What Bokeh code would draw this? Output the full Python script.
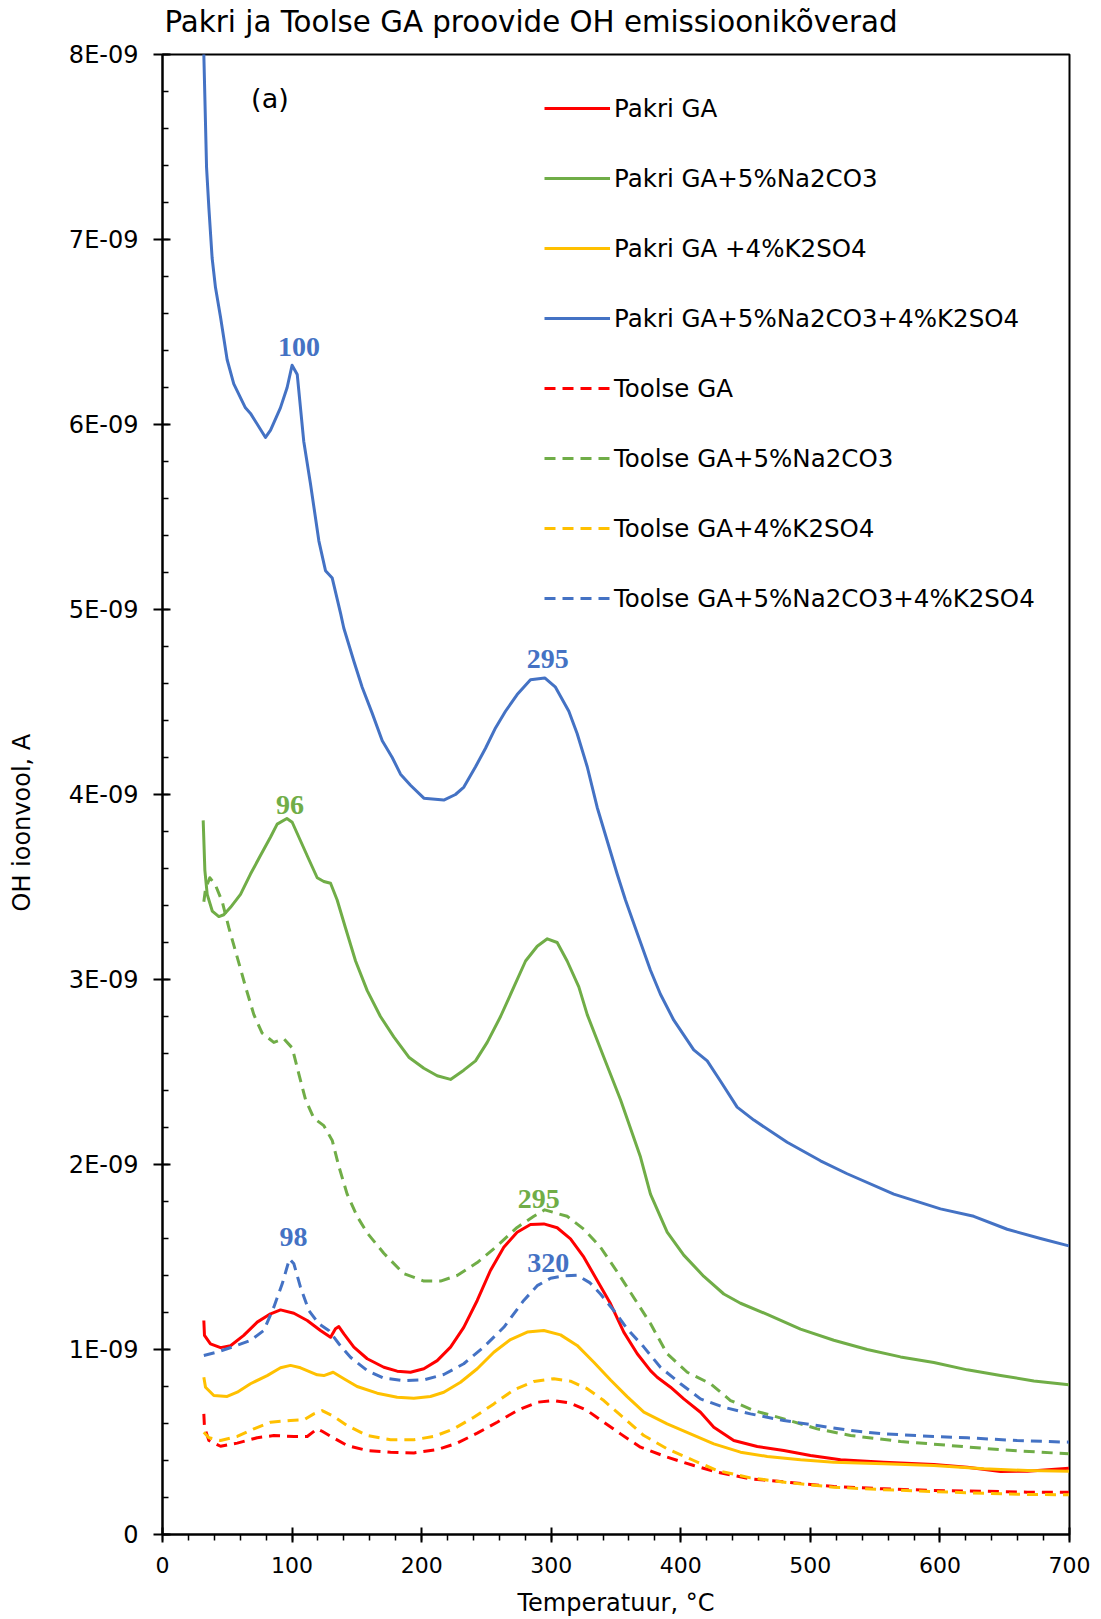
import numpy as np
from bokeh.plotting import figure
from bokeh.models import (ColumnDataSource, Legend, LegendItem, Range1d, LinearAxis,
                          SingleIntervalTicker, FixedTicker, CustomJSTickFormatter, Label, Title)
from bokeh.core.properties import value
from bokeh.embed import file_html
from bokeh.resources import INLINE

# Temperature (°C) and OH ion current (in units of 1E-09 A) for each sample
pakri_T = [31.9, 32.4, 37, 44.8, 52.5, 62.7, 73.1, 83.4, 91.1, 101.4, 111.7, 121.9, 129.7, 133.5,
           136.1, 140, 147.7, 158, 170.8, 181.1, 191.4, 201.7, 212, 222.3, 232.5, 242.9, 253.1,
           263.4, 273.7, 284, 294.3, 304.6, 314.9, 325.2, 335.5, 345.8, 356, 366.4, 376.6, 381.8,
           392.1, 402.3, 415.2, 425.5, 440.9, 459, 479.5, 500.1, 523.3, 556.7, 595.3, 621.1,
           646.8, 667.4, 699.5]
pakri_oh = [1.157, 1.076, 1.03, 1.01, 1.02, 1.076, 1.148, 1.193, 1.214, 1.196, 1.157, 1.103, 1.066,
            1.112, 1.124, 1.085, 1.013, 0.95, 0.904, 0.883, 0.877, 0.896, 0.94, 1.013, 1.12, 1.265,
            1.427, 1.553, 1.634, 1.676, 1.679, 1.658, 1.598, 1.499, 1.373, 1.247, 1.094, 0.977,
            0.886, 0.85, 0.796, 0.733, 0.661, 0.58, 0.508, 0.476, 0.454, 0.427, 0.404, 0.391,
            0.378, 0.364, 0.341, 0.342, 0.358]

pakri_na_T = [31.4, 32.7, 34.5, 38.4, 43.5, 47.3, 52.5, 60.2, 67.9, 75.6, 83.4, 88.5, 96, 100.1,
              106.5, 112.9, 119.4, 124.5, 129.7, 134.8, 141.2, 149, 158, 168.2, 178.5, 190.1,
              201.7, 212, 222.3, 232.5, 241.6, 250.6, 260.9, 271.2, 280.2, 289.2, 297, 304.6,
              312.3, 321.3, 327.8, 340.6, 353.5, 368.9, 376.6, 389.5, 402.3, 417.8, 433.2, 446.1,
              466.7, 492.4, 518.1, 543.9, 569.6, 595.3, 621.1, 646.8, 672.5, 699.5]
pakri_na_oh = [3.86, 3.59, 3.46, 3.37, 3.34, 3.35, 3.39, 3.46, 3.57, 3.67, 3.77, 3.84, 3.87, 3.85,
               3.75, 3.65, 3.55, 3.53, 3.52, 3.43, 3.28, 3.10, 2.94, 2.80, 2.69, 2.58, 2.52, 2.48,
               2.46, 2.51, 2.56, 2.66, 2.80, 2.96, 3.10, 3.18, 3.22, 3.20, 3.10, 2.96, 2.81, 2.58,
               2.35, 2.04, 1.84, 1.635, 1.51, 1.395, 1.30, 1.25, 1.19, 1.11, 1.05, 1.00, 0.96,
               0.93, 0.89, 0.86, 0.83, 0.81]

pakri_k_T = [31.9, 33.2, 39.6, 49.9, 57.7, 67.9, 80.8, 91.1, 98.8, 106.5, 119.4, 124.5, 131.7, 140,
             150.2, 165.7, 181.1, 194, 206.8, 217.1, 230, 242.9, 255.7, 268.6, 281.5, 294.3,
             307.2, 320, 332.9, 345.8, 358.6, 371.5, 389.5, 407.5, 425.5, 446.1, 466.7, 492.4,
             518.1, 556.7, 595.3, 633.9, 667.4, 699.5]
pakri_k_oh = [0.85, 0.796, 0.751, 0.746, 0.769, 0.815, 0.859, 0.901, 0.914, 0.901, 0.863, 0.859,
              0.877, 0.842, 0.80, 0.764, 0.742, 0.737, 0.746, 0.769, 0.823, 0.896, 0.985, 1.054,
              1.094, 1.103, 1.079, 1.022, 0.931, 0.835, 0.745, 0.661, 0.598, 0.544, 0.49, 0.445,
              0.422, 0.404, 0.391, 0.382, 0.373, 0.355, 0.346, 0.342]

pakri_na_k_T = [31.6, 31.9, 34, 35.8, 38.3, 40.9, 44.8, 49.9, 55, 64, 67.9, 79.5, 83.4, 91, 96.2,
                100, 104, 109, 114.2, 120.7, 125.8, 131, 137.4, 139.9, 147.7, 154.1, 161.8, 169.6,
                177.3, 183.7, 191.4, 201.7, 217.1, 226.1, 232.6, 241.6, 249.3, 257, 264.7, 273.7,
                284, 295, 303.3, 313.6, 320, 327.8, 335.5, 343.2, 350.9, 357.3, 366.4, 376.6,
                384.3, 394.6, 410, 420.4, 430.7, 443.5, 456.4, 482.1, 507.8, 528.4, 564.4, 600.4,
                626.1, 651.9, 677.6, 699.5]
pakri_na_k_oh = [8.3, 8.0, 7.39, 7.17, 6.90, 6.74, 6.58, 6.35, 6.22, 6.09, 6.06, 5.93, 5.97, 6.09,
                 6.20, 6.32, 6.27, 5.91, 5.68, 5.37, 5.21, 5.17, 4.98, 4.90, 4.72, 4.58, 4.44,
                 4.29, 4.20, 4.11, 4.05, 3.98, 3.97, 4.00, 4.04, 4.15, 4.25, 4.36, 4.45, 4.54,
                 4.62, 4.63, 4.58, 4.45, 4.33, 4.15, 3.93, 3.75, 3.57, 3.43, 3.25, 3.05, 2.92,
                 2.78, 2.62, 2.56, 2.45, 2.31, 2.24, 2.12, 2.02, 1.95, 1.84, 1.76, 1.72, 1.65,
                 1.60, 1.56]

toolse_T = [31.9, 32.4, 35.8, 44.8, 57.7, 73.1, 85.9, 101.4, 111.7, 119.4, 123.2, 131, 142.5, 158,
            176, 194, 212, 227.4, 242.9, 258.3, 273.7, 289.2, 302, 314.9, 327.8, 340.6, 353.5,
            368.9, 389.5, 410, 428.1, 453.8, 482.1, 518.1, 556.7, 595.3, 633.9, 667.4, 699.5]
toolse_oh = [0.652, 0.58, 0.508, 0.477, 0.494, 0.523, 0.535, 0.53, 0.53, 0.571, 0.558, 0.526,
             0.481, 0.454, 0.445, 0.441, 0.459, 0.494, 0.548, 0.607, 0.67, 0.715, 0.724, 0.71,
             0.67, 0.607, 0.544, 0.472, 0.418, 0.373, 0.337, 0.301, 0.283, 0.259, 0.247, 0.238,
             0.234, 0.229, 0.229]

toolse_na_T = [31.9, 33.2, 36.5, 40.9, 46.1, 51.2, 57.7, 64.1, 70.5, 76.9, 85.9, 93.6, 100.1,
               105.2, 110.4, 116.8, 124.5, 131, 136.1, 142.5, 150.2, 158, 170.8, 186.2, 201.7,
               214.6, 227.4, 242.9, 258.3, 273.7, 286.6, 295, 312.3, 325.2, 338, 350.9, 363.8,
               376.6, 389.5, 405, 422.9, 438.4, 456.4, 479.5, 505.3, 531, 569.6, 608.2, 646.8,
               699.5]
toolse_na_oh = [3.42, 3.49, 3.55, 3.51, 3.42, 3.28, 3.12, 2.96, 2.81, 2.71, 2.66, 2.68, 2.63,
                2.49, 2.35, 2.25, 2.21, 2.13, 1.99, 1.84, 1.72, 1.63, 1.52, 1.41, 1.37, 1.37, 1.40,
                1.47, 1.56, 1.66, 1.72, 1.755, 1.72, 1.65, 1.553, 1.42, 1.28, 1.14, 0.977, 0.877,
                0.815, 0.724, 0.67, 0.625, 0.571, 0.535, 0.503, 0.481, 0.458, 0.436]

toolse_k_T = [31.9, 35.8, 44.8, 57.7, 70.5, 83.4, 98.8, 109.1, 116.8, 123.2, 131, 142.5, 158, 176,
              194, 209.4, 224.8, 240.3, 255.7, 271.2, 286.6, 302, 314.9, 327.8, 340.6, 353.5,
              371.5, 389.5, 410, 428.1, 453.8, 482.1, 518.1, 556.7, 595.3, 633.9, 667.4, 699.5]
toolse_k_oh = [0.553, 0.523, 0.508, 0.53, 0.571, 0.607, 0.616, 0.62, 0.652, 0.67, 0.643, 0.589,
               0.535, 0.512, 0.512, 0.53, 0.571, 0.634, 0.706, 0.782, 0.827, 0.842, 0.829, 0.788,
               0.724, 0.645, 0.535, 0.463, 0.40, 0.346, 0.306, 0.281, 0.256, 0.242, 0.232, 0.223,
               0.216, 0.215]

toolse_na_k_T = [31.9, 42.2, 55, 67.9, 78.2, 85.9, 92.4, 98, 101.4, 106.5, 112.9, 120.6, 128.3,
                 136.1, 145.1, 158, 170.8, 186.2, 201.7, 217.1, 232.5, 247.9, 263.4, 278.8, 289.2,
                 299.5, 310, 320, 330, 338, 348.3, 358.6, 371.5, 384.3, 399.8, 415.2, 433.2,
                 453.8, 479.5, 505.3, 531, 556.7, 595.3, 621.1, 659.6, 699.5]
toolse_na_k_oh = [0.968, 0.986, 1.016, 1.049, 1.103, 1.229, 1.355, 1.49, 1.463, 1.337, 1.211,
                  1.139, 1.103, 1.031, 0.958, 0.886, 0.845, 0.832, 0.836, 0.865, 0.923, 1.013,
                  1.12, 1.265, 1.345, 1.385, 1.398, 1.402, 1.36, 1.30, 1.211, 1.112, 1.013, 0.904,
                  0.815, 0.733, 0.688, 0.652, 0.616, 0.589, 0.562, 0.544, 0.53, 0.523, 0.508,
                  0.499]

RED, GREEN, YELLOW, BLUE = "#FF0000", "#70AD47", "#FFC000", "#4472C4"
SCALE = 1e-9
FONT = "DejaVu Sans"
DASH = "11 7"

series = [
    ("Pakri GA", pakri_T, pakri_oh, RED, "solid"),
    ("Pakri GA+5%Na2CO3", pakri_na_T, pakri_na_oh, GREEN, "solid"),
    ("Pakri GA +4%K2SO4", pakri_k_T, pakri_k_oh, YELLOW, "solid"),
    ("Pakri GA+5%Na2CO3+4%K2SO4", pakri_na_k_T, pakri_na_k_oh, BLUE, "solid"),
    ("Toolse GA", toolse_T, toolse_oh, RED, DASH),
    ("Toolse GA+5%Na2CO3", toolse_na_T, toolse_na_oh, GREEN, DASH),
    ("Toolse GA+4%K2SO4", toolse_k_T, toolse_k_oh, YELLOW, DASH),
    ("Toolse GA+5%Na2CO3+4%K2SO4", toolse_na_k_T, toolse_na_k_oh, BLUE, DASH),
]

# Peak temperatures marked on the curves: (series index, temperature, pixel offsets)
peaks = [
    (3, 100, 7, -18),
    (3, 295, 3, -19),
    (1, 96, 3, -14),
    (7, 98, 4, -22),
    (5, 295, -6, -11),
    (7, 320, -29, -12),
]

p = figure(width=1101, height=1619, output_backend="svg", toolbar_location=None,
           x_range=Range1d(0, 700), y_range=Range1d(0, 8 * SCALE),
           min_border_left=162, min_border_right=32, min_border_top=54, min_border_bottom=85,
           background_fill_color="white", border_fill_color="white")
p.title.text = ""

p.xgrid.visible = False
p.ygrid.visible = False
p.outline_line_color = "black"
p.outline_line_width = 2
p.outline_line_alpha = 1

renderers = []
for name, T, oh, color, dash in series:
    src = ColumnDataSource(dict(x=T, y=[v * SCALE for v in oh]))
    r = p.line("x", "y", source=src, line_color=color, line_width=3, line_dash=dash,
               line_join="round")
    renderers.append((name, r))

# peak temperature labels
lx, ly, lt, lc, ox, oy = [], [], [], [], [], []
for idx, t, dx, dy in peaks:
    name, T, oh, color, dash = series[idx]
    lx.append(t)
    ly.append(float(np.interp(t, T, oh)) * SCALE)
    lt.append(str(t))
    lc.append(color)
    ox.append(dx)
    oy.append(dy)
lab_src = ColumnDataSource(dict(x=lx, y=ly, text=lt, color=lc, xo=ox, yo=oy))
p.text("x", "y", text="text", source=lab_src, text_color="color", x_offset="xo", y_offset="yo",
       text_font=value("Liberation Serif"), text_font_style="bold", text_font_size="28px",
       text_align="center", text_baseline="middle")

p.add_layout(Label(x=82.9, y=7.76 * SCALE, text="(a)", text_font=FONT, text_font_size="27px",
                   text_align="center", text_baseline="middle", text_color="black"))

legend = Legend(items=[LegendItem(label=n, renderers=[r]) for n, r in renderers],
                location=(382, 921), glyph_width=66, glyph_height=30, label_height=30,
                spacing=40, padding=0, margin=0, label_standoff=4,
                label_text_font=FONT, label_text_font_size="24.5px", label_text_color="black",
                border_line_color=None, background_fill_alpha=0)
p.add_layout(legend)

# main axes
p.xaxis.ticker = SingleIntervalTicker(interval=100, num_minor_ticks=5)
p.yaxis.ticker = SingleIntervalTicker(interval=SCALE, num_minor_ticks=5)
p.yaxis.formatter = CustomJSTickFormatter(
    code="if (Math.abs(tick) < 1e-15) { return '0'; } return Math.round(tick * 1e9) + 'E-09';")

p.xaxis.axis_label = "Temperatuur, °C"
for ax in (p.xaxis[0], p.yaxis[0]):
    ax.axis_line_color = "black"
    ax.axis_line_width = 2
    ax.major_tick_line_color = "black"
    ax.major_tick_line_width = 2
    ax.minor_tick_line_color = "black"
    ax.minor_tick_line_width = 1.5
    ax.major_label_text_font = FONT
    ax.major_label_text_color = "black"

p.xaxis.axis_label_text_font = FONT
p.xaxis.axis_label_text_font_size = "24px"
p.xaxis.axis_label_text_font_style = "normal"
p.xaxis.axis_label_text_color = "black"
p.xaxis.major_label_text_font_size = "22px"
p.xaxis.major_tick_in = 7
p.xaxis.major_tick_out = 8
p.xaxis.minor_tick_in = 0
p.xaxis.minor_tick_out = 6
p.xaxis.major_label_standoff = 14
p.xaxis.axis_label_standoff = 13

p.yaxis.major_label_text_font_size = "24px"
p.yaxis.major_tick_in = 8
p.yaxis.major_tick_out = 9
p.yaxis.minor_tick_in = 6
p.yaxis.minor_tick_out = 0
p.yaxis.major_label_standoff = 15


def spacer_axis(size, tick_at):
    # a blank axis (one faint tick, no label text) that only reserves room in a side panel
    return LinearAxis(ticker=FixedTicker(ticks=[tick_at], minor_ticks=[]),
                      formatter=CustomJSTickFormatter(code="return '';"),
                      axis_line_color=None,
                      major_tick_out=size, major_tick_in=0, minor_tick_out=0, minor_tick_in=0,
                      major_tick_line_color="white", major_tick_line_alpha=0.01,
                      major_label_standoff=0, major_label_text_font_size="1px",
                      major_label_text_alpha=0.01)


# vertical axis title, outside the tick labels
p.add_layout(spacer_axis(29, 4 * SCALE), "left")
p.add_layout(Title(text="OH ioonvool, A", align="left", offset=623, vertical_align="middle",
                   standoff=0, text_font=FONT, text_font_size="24px",
                   text_font_style="normal", text_color="black"), "left")

# chart title, above a small gap
p.add_layout(spacer_axis(15, 350), "above")
p.add_layout(Title(text="Pakri ja Toolse GA proovide OH emissioonikõverad", align="left",
                   vertical_align="middle", offset=2, standoff=0,
                   text_font=FONT, text_font_size="29.3px", text_font_style="normal",
                   text_color="black"), "above")

open("out.html", "w").write(file_html(p, INLINE))
